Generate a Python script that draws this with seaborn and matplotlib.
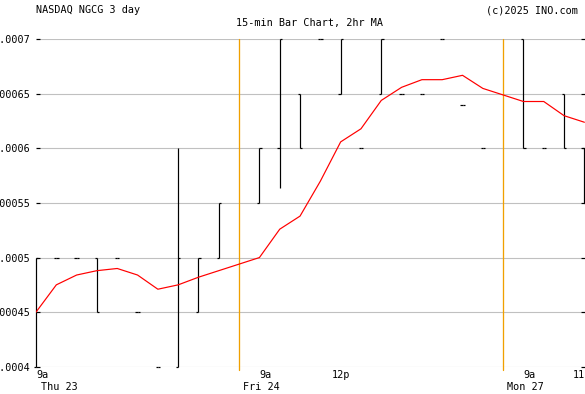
import numpy as np
import pandas as pd
import matplotlib
matplotlib.use("Agg")
import matplotlib.pyplot as plt
import matplotlib.transforms as mtransforms
import seaborn as sns

# ---------------- data ----------------
slots = list(range(28))
bar_open = [0.0004, 0.0005, 0.0005, 0.0005, 0.0005, 0.00045, 0.0004, 0.0004, 0.00045, 0.0005, None,
            0.00055, 0.0006, 0.00065, 0.0007, 0.00065, 0.0006, 0.00065, 0.00065, 0.00065, 0.0007,
            0.00064, 0.0006, None, 0.0007, 0.0006, 0.00065, 0.0006]
bar_high = [0.0005, 0.0005, 0.0005, 0.0005, 0.0005, 0.00045, 0.0004, 0.0006, 0.0005, 0.00055, None,
            0.0006, 0.0007, 0.00065, 0.0007, 0.0007, 0.0006, 0.0007, 0.00065, 0.00065, 0.0007,
            0.00064, 0.0006, None, 0.0007, 0.0006, 0.00065, 0.0006]
bar_low = [0.0004, 0.0005, 0.0005, 0.00045, 0.0005, 0.00045, 0.0004, 0.0004, 0.00045, 0.0005, None,
           0.00055, 0.000564, 0.0006, 0.0007, 0.00065, 0.0006, 0.00065, 0.00065, 0.00065, 0.0007,
           0.00064, 0.0006, None, 0.0006, 0.0006, 0.0006, 0.00055]
bar_close = [0.0005, 0.0005, 0.0005, 0.00045, 0.0005, 0.00045, 0.0004, 0.0005, 0.0005, 0.00055, None,
             0.0006, 0.0007, 0.0006, 0.0007, 0.0007, 0.0006, 0.0007, 0.00065, 0.00065, 0.0007,
             0.00064, 0.0006, None, 0.0006, 0.0006, 0.0006, 0.00055]
ma_2hr = [0.00045, 0.000475, 0.000484, 0.000488, 0.00049, 0.000484, 0.000471, 0.000475, 0.000482,
          0.000488, None, 0.0005, 0.000526, 0.000538, 0.00057, 0.000606, 0.000618, 0.000644,
          0.000656, 0.000663, 0.000663, 0.000667, 0.000655, None, 0.000643, 0.000643, 0.00063,
          0.000624]
day_breaks = [10, 23]
y_ticks = [0.0004, 0.00045, 0.0005, 0.00055, 0.0006, 0.00065, 0.0007]
y_tick_labels = ["0.0004", "0.00045", "0.0005", "0.00055", "0.0006", "0.00065", "0.0007"]
time_labels = [(0, "9a", "left"), (11, "9a", "left"), (15, "12p", "center"),
               (24, "9a", "left"), (27.03, "11", "right")]
day_labels = [(1.16, "Thu 23"), (11.12, "Fri 24"), (24.1, "Mon 27")]
title_left = "NASDAQ NGCG 3 day"
title_center = "15-min Bar Chart, 2hr MA"
title_right = "(c)2025 INO.com"

# ---------------- style ----------------
sns.set_theme(style="white")
plt.rcParams["font.family"] = ["DejaVu Sans Mono"]
FS = 7.3
PX = 0.72  # one pixel in points at 100 dpi

W, H = 585, 394
fig = plt.figure(figsize=(W / 100, H / 100), dpi=100)
fig.patch.set_facecolor("white")
y_top_px, y_bot_px = 39.3, 366.7
ax = fig.add_axes([36 / W, (H - y_bot_px) / H, 549 / W, (y_bot_px - y_top_px) / H])
ax.set_facecolor("white")
ax.set_xlim(0, 27.03)
ax.set_ylim(0.0004, 0.0007)
for s in ax.spines.values():
    s.set_visible(False)

# grid lines
for v in y_ticks:
    ax.axhline(v, xmin=4 / 549, xmax=545 / 549, color="#c0c0c0", lw=PX * 1.1, zorder=0)

# day separators
for d in day_breaks:
    ax.axvline(d, ymin=-0.011, ymax=1.0, color="#f0a000", lw=PX * 1.3, zorder=1, clip_on=False)

# OHLC bars
df = pd.DataFrame({"slot": slots, "o": bar_open, "h": bar_high, "l": bar_low, "c": bar_close}).dropna()
tw = 0.11
ax.vlines(df["slot"], df["l"], df["h"], color="black", lw=PX * 1.2, zorder=3, clip_on=False)
ax.hlines(df["o"], df["slot"] - tw, df["slot"], color="black", lw=PX * 1.2, zorder=3, clip_on=False)
ax.hlines(df["c"], df["slot"], df["slot"] + tw, color="black", lw=PX * 1.2, zorder=3, clip_on=False)

# moving average
ma_df = pd.DataFrame({"slot": slots, "ma": ma_2hr}).dropna()
sns.lineplot(data=ma_df, x="slot", y="ma", ax=ax, color="#ff0000", lw=PX * 1.2, zorder=4)

# axes ticks
ax.set_yticks(y_ticks)
ax.set_yticklabels(y_tick_labels)
ax.tick_params(axis="y", direction="in", length=4 / 1.389, width=PX * 1.2, color="black",
               left=True, right=True, labelleft=True, labelright=False, pad=4.3,
               labelsize=FS, labelcolor="black")
ax.set_xticks([])
ax.set_xlabel("")
ax.set_ylabel("")

# x labels
tr = mtransforms.blended_transform_factory(ax.transData, fig.transFigure)
for x, lab, ha in time_labels:
    ax.text(x, 1 - 377.7 / H, lab, transform=tr, ha=ha, va="baseline", fontsize=FS,
            color="black", clip_on=False)
for x, lab in day_labels:
    ax.text(x, 1 - 390 / H, lab, transform=tr, ha="center", va="baseline", fontsize=FS,
            color="black", clip_on=False)

# headers
fig.text(36 / W, 1 - 13.3 / H, title_left, ha="left", va="baseline", fontsize=FS, color="black")
fig.text(578 / W, 1 - 13.3 / H, title_right, ha="right", va="baseline", fontsize=FS, color="black")
fig.text(309 / W, 1 - 25.7 / H, title_center, ha="center", va="baseline", fontsize=FS, color="black")

fig.savefig("out.png", dpi=100, facecolor="white")
